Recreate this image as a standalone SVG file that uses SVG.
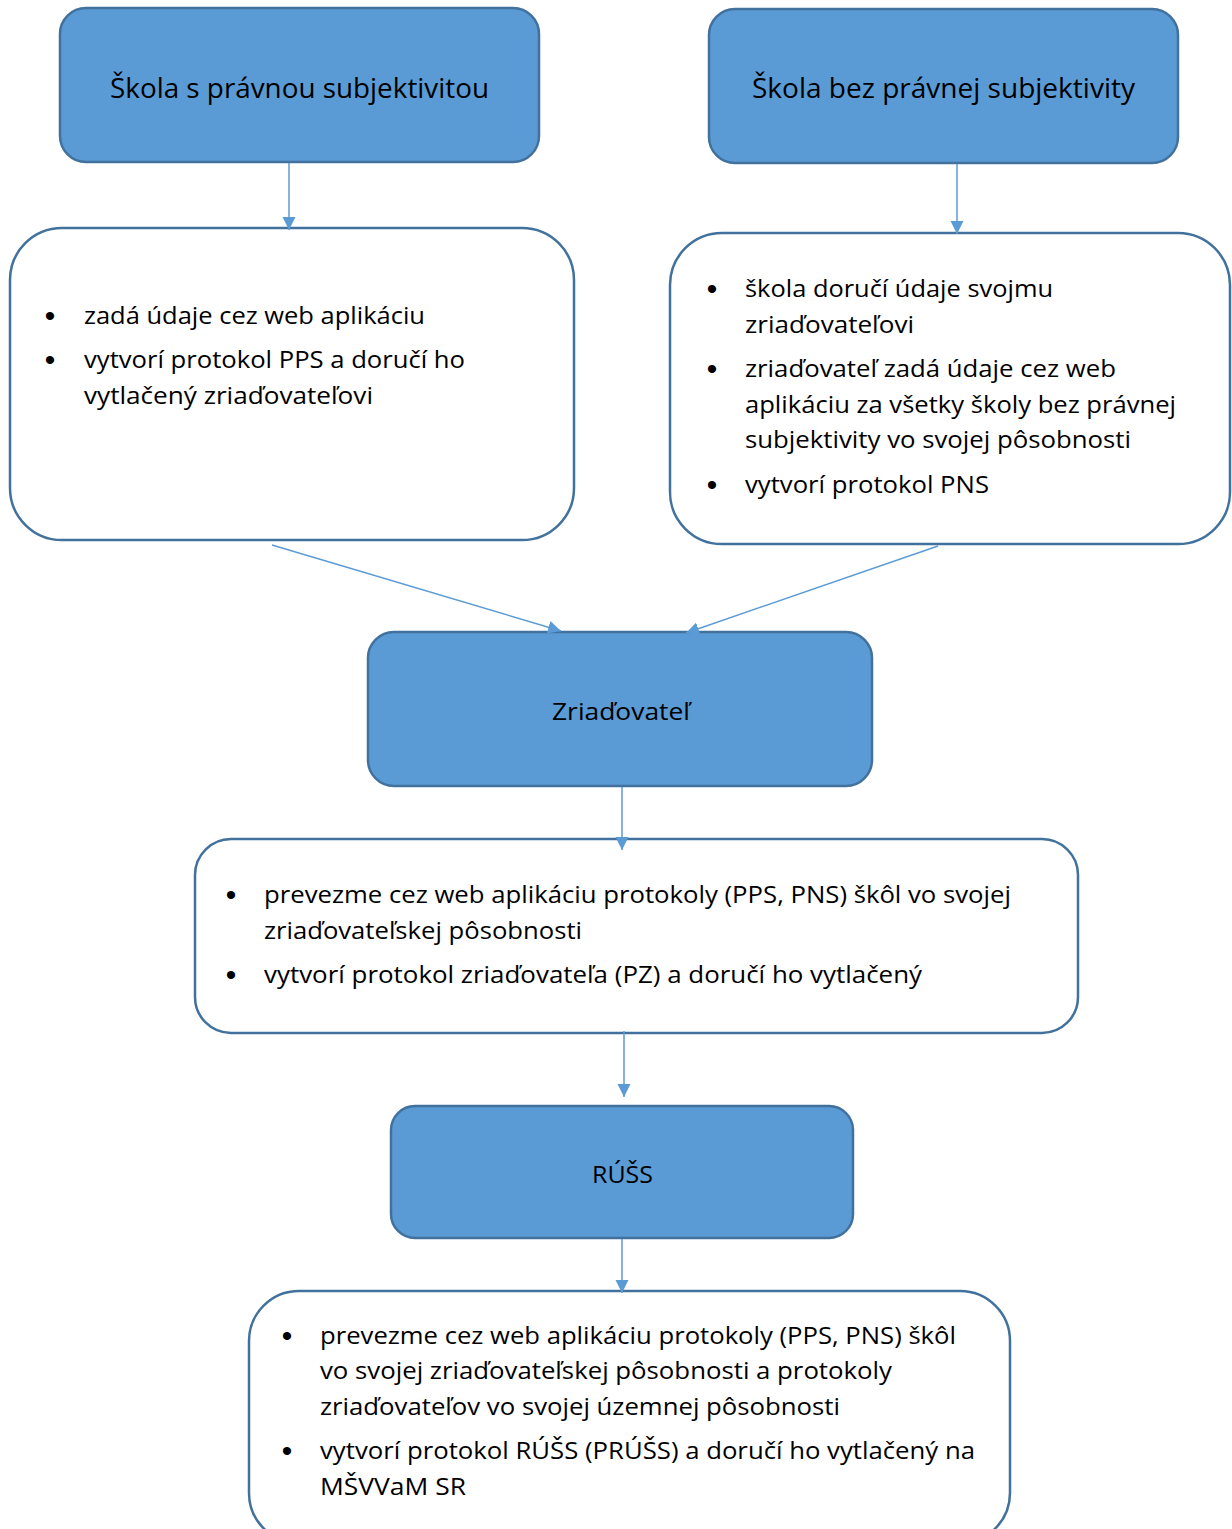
<svg xmlns="http://www.w3.org/2000/svg" width="1232" height="1529" viewBox="0 0 1232 1529">
<defs>
<marker id="ah" markerUnits="userSpaceOnUse" markerWidth="14" markerHeight="14" refX="13" refY="7" orient="auto" viewBox="0 0 14 14">
<path d="M0,0.5 L13,7 L0,13.5 Z" fill="#5b9bd5"/>
</marker>
<style>
.blue{fill:#5b9bd5;stroke:#41719c;stroke-width:2.5}
.white{fill:#ffffff;stroke:#41719c;stroke-width:2.5}
.conn{stroke:#5b9bd5;stroke-width:1.5;fill:none;marker-end:url(#ah)}
text{font-family:"Open Sans","Noto Sans","Liberation Sans",sans-serif;fill:#000}
.t{font-size:28px}
.b{font-size:23px}
.bl{font-size:30px;text-anchor:middle;font-family:"Liberation Sans",sans-serif}
</style>
</defs>
<rect width="1232" height="1529" fill="#ffffff"/>

<g id="skola-s-pravnou">
<rect class="blue" x="60" y="8" width="479" height="154" rx="26"/>
<text class="t" x="110" y="98" textLength="379" lengthAdjust="spacingAndGlyphs">Škola s právnou subjektivitou</text>
</g>

<g id="skola-bez-pravnej">
<rect class="blue" x="709" y="9" width="469" height="154" rx="26"/>
<text class="t" x="752" y="98" textLength="383" lengthAdjust="spacingAndGlyphs">Škola bez právnej subjektivity</text>
</g>

<g id="box-s-pravnou">
<rect class="white" x="10" y="228" width="564" height="312" rx="52"/>
<text class="bl" x="50" y="326">•</text>
<text class="b" x="84" y="324" textLength="341" lengthAdjust="spacingAndGlyphs">zadá údaje cez web aplikáciu</text>
<text class="bl" x="50" y="370">•</text>
<text class="b" x="84" y="368" textLength="381" lengthAdjust="spacingAndGlyphs">vytvorí protokol PPS a doručí ho</text>
<text class="b" x="84" y="404" textLength="289" lengthAdjust="spacingAndGlyphs">vytlačený zriaďovateľovi</text>
</g>

<g id="box-bez-pravnej">
<rect class="white" x="670" y="233" width="560" height="311" rx="52"/>
<text class="bl" x="712" y="299">•</text>
<text class="b" x="745" y="297" textLength="308" lengthAdjust="spacingAndGlyphs">škola doručí údaje svojmu</text>
<text class="b" x="745" y="333" textLength="169" lengthAdjust="spacingAndGlyphs">zriaďovateľovi</text>
<text class="bl" x="712" y="379">•</text>
<text class="b" x="745" y="377" textLength="371" lengthAdjust="spacingAndGlyphs">zriaďovateľ zadá údaje cez web</text>
<text class="b" x="745" y="413" textLength="431" lengthAdjust="spacingAndGlyphs">aplikáciu za všetky školy bez právnej</text>
<text class="b" x="745" y="448" textLength="386" lengthAdjust="spacingAndGlyphs">subjektivity vo svojej pôsobnosti</text>
<text class="bl" x="712" y="495">•</text>
<text class="b" x="745" y="493" textLength="244" lengthAdjust="spacingAndGlyphs">vytvorí protokol PNS</text>
</g>

<g id="zriadovatel">
<rect class="blue" x="368" y="632" width="504" height="154" rx="26"/>
<text class="b" x="552" y="720" textLength="138" lengthAdjust="spacingAndGlyphs">Zriaďovateľ</text>
</g>

<g id="box-zriadovatel">
<rect class="white" x="195" y="839" width="883" height="194" rx="36"/>
<text class="bl" x="231" y="905">•</text>
<text class="b" x="264" y="903" textLength="747" lengthAdjust="spacingAndGlyphs">prevezme cez web aplikáciu protokoly (PPS, PNS) škôl vo svojej</text>
<text class="b" x="264" y="939" textLength="318" lengthAdjust="spacingAndGlyphs">zriaďovateľskej pôsobnosti</text>
<text class="bl" x="231" y="985">•</text>
<text class="b" x="264" y="983" textLength="658" lengthAdjust="spacingAndGlyphs">vytvorí protokol zriaďovateľa (PZ) a doručí ho vytlačený</text>
</g>

<g id="russ">
<rect class="blue" x="391" y="1106" width="462" height="132" rx="24"/>
<text class="b" x="592" y="1183" textLength="61" lengthAdjust="spacingAndGlyphs">RÚŠS</text>
</g>

<g id="box-russ">
<rect class="white" x="249" y="1291" width="761" height="252" rx="50"/>
<text class="bl" x="287" y="1346">•</text>
<text class="b" x="320" y="1344" textLength="636" lengthAdjust="spacingAndGlyphs">prevezme cez web aplikáciu protokoly (PPS, PNS) škôl</text>
<text class="b" x="320" y="1379" textLength="572" lengthAdjust="spacingAndGlyphs">vo svojej zriaďovateľskej pôsobnosti a protokoly</text>
<text class="b" x="320" y="1415" textLength="520" lengthAdjust="spacingAndGlyphs">zriaďovateľov vo svojej územnej pôsobnosti</text>
<text class="bl" x="287" y="1461">•</text>
<text class="b" x="320" y="1459" textLength="655" lengthAdjust="spacingAndGlyphs">vytvorí protokol RÚŠS (PRÚŠS) a doručí ho vytlačený na</text>
<text class="b" x="320" y="1495" textLength="146" lengthAdjust="spacingAndGlyphs">MŠVVaM SR</text>
</g>

<g id="connectors">
<line class="conn" x1="289" y1="163" x2="289" y2="230"/>
<line class="conn" x1="957" y1="164" x2="957" y2="234"/>
<line class="conn" x1="272" y1="545" x2="561" y2="631"/>
<line class="conn" x1="938" y1="546" x2="686" y2="633"/>
<line class="conn" x1="622" y1="787" x2="622" y2="850"/>
<line class="conn" x1="624" y1="1031" x2="624" y2="1097"/>
<line class="conn" x1="622" y1="1239" x2="622" y2="1293"/>
</g>
</svg>
